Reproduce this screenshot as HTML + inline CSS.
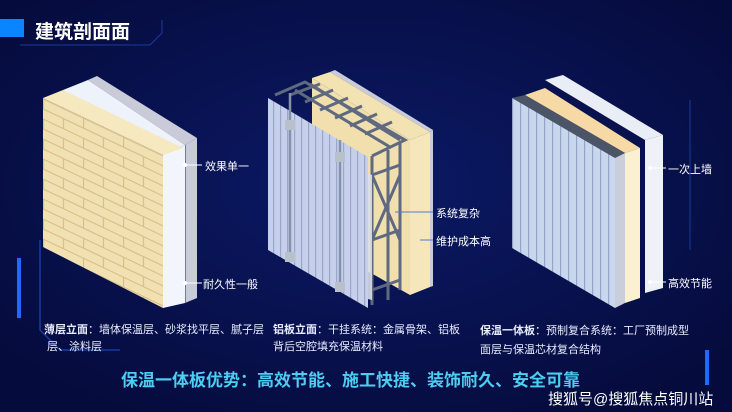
<!DOCTYPE html>
<html><head><meta charset="utf-8"><style>
body{margin:0;width:732px;height:412px;overflow:hidden;background:#07104a;font-family:"Liberation Sans","Noto Sans CJK SC",sans-serif;position:relative}
.t{position:absolute;color:#fff;white-space:nowrap}
</style></head><body>
<svg width="732" height="412" style="position:absolute;left:0;top:0">
<defs>
<radialGradient id="bg" cx="50%" cy="45%" r="65%"><stop offset="0" stop-color="#0c1a66"/><stop offset="1" stop-color="#050b3c"/></radialGradient>
<pattern id="stripe" width="7" height="10" patternUnits="userSpaceOnUse"><rect width="7" height="10" fill="#c6d0ea"/><rect width="1.2" height="10" fill="#9aa6cc"/></pattern>
<pattern id="stripe3" width="8" height="10" patternUnits="userSpaceOnUse"><rect width="8" height="10" fill="#c8d6ee"/><rect width="1.2" height="10" fill="#95a5c8"/></pattern>
<pattern id="bricks" width="40" height="20" patternUnits="userSpaceOnUse" patternTransform="skewY(25.4) translate(43,78)"><rect width="40" height="20" fill="#f1e1b2"/><path d="M0 0.5H40M0 10.5H40M0.5 0V10M20.5 10V20" stroke="#d6bd86" stroke-width="1.2"/></pattern>
</defs>
<rect width="732" height="412" fill="url(#bg)"/>
<path d="M20 45H150L162 33V20" fill="none" stroke="#1a3a9a" stroke-width="1"/>
<path d="M40 240V330L60 350H120" fill="none" stroke="#1a3aa0" stroke-width="1.5"/>
<rect x="17" y="258" width="4" height="60" fill="#1e6cff"/>
<rect x="705" y="350" width="4" height="35" fill="#1e6cff"/>
<path d="M690 100V250" stroke="#1a3a9a" stroke-width="1"/>
<rect x="0" y="19" width="24" height="18" fill="#0a84ff"/>
<!-- panel 1 -->
<polygon points="88,80 97,76 197,138 185,145" fill="#c9ccd8"/>
<polygon points="185,145 197,138 197,298 185,303" fill="#c8ccd8"/>
<line x1="185" y1="145" x2="185" y2="303" stroke="#5b6274" stroke-width="1.5"/>
<polygon points="63,90 88,80 185,145 163,155" fill="#eef2fa"/>
<polygon points="163,155 185,145 185,303 163,308" fill="#f2f5fb"/>
<polygon points="43,98 63,90 183,148 163,155" fill="#f6e8bf"/>
<polygon points="43,98 163,155 163,308 43,247" fill="url(#bricks)"/>
<line x1="185" y1="165" x2="202" y2="165" stroke="#fff"/><circle cx="185" cy="165" r="2" fill="#fff"/>
<line x1="185" y1="283" x2="202" y2="283" stroke="#fff"/><circle cx="185" cy="283" r="2" fill="#fff"/>
<!-- panel 2 -->
<polygon points="330,72 335,70 433,130 430,132" fill="#c9ccd8"/>
<polygon points="430,132 433,130 433,286 430,287" fill="#c9ccd8"/>
<polygon points="312,78 330,72 430,132 410,140" fill="#f3e2b2"/>
<polygon points="312,78 410,140 410,295 312,240" fill="#f1dfae"/>
<polygon points="410,140 430,132 430,287 410,295" fill="#f6e6bb"/>
<g stroke="#5f6a80" stroke-width="3" fill="none">
<path d="M275 95L305 82L405 140L372 156"/>
<path d="M290 95L320 84M305 102L333 90M320 110L348 98M335 118L362 106M350 126L377 114M365 134L392 122"/>
<path d="M295 90L390 147M310 84L400 140"/>
<path d="M372 156V305M400 143V290M388 150V300"/>
<path d="M372 175L400 165M372 240L400 230M372 290L400 280M372 175L400 240M400 175L372 240"/>
</g>
<polygon points="355,168 372,175 372,300 355,296" fill="#d8dee8" opacity=".9"/>
<polygon points="268,98 368,157 368,308 268,250" fill="url(#stripe)"/>
<g stroke="#8592a8" stroke-width="2.5" fill="none"><path d="M290 93V262M340 140V292"/></g>
<g fill="#b8c0cc"><rect x="285" y="120" width="10" height="10"/><rect x="335" y="152" width="10" height="10"/><rect x="285" y="252" width="10" height="10"/><rect x="335" y="282" width="10" height="10"/></g>
<line x1="395" y1="212" x2="433" y2="212" stroke="#4d7ad8"/>
<line x1="420" y1="240" x2="433" y2="240" stroke="#4d7ad8"/>
<!-- panel 3 -->
<polygon points="545,80 563,75 663,135 645,140" fill="#e9edf6"/>
<polygon points="645,140 663,135 663,288 645,293" fill="#eef2f8"/>
<polygon points="525,95 545,88 640,148 625,153" fill="#f7d9a6"/>
<polygon points="625,153 640,148 640,298 625,303" fill="#fbf0cf"/>
<polygon points="512,98 525,95 625,153 615,158" fill="#4c5468"/>
<polygon points="615,158 625,153 625,303 615,308" fill="#c9ceda"/>
<polygon points="512,98 615,158 615,308 512,248" fill="url(#stripe3)"/>
<line x1="650" y1="168" x2="666" y2="168" stroke="#fff"/><circle cx="650" cy="168" r="2" fill="#fff"/>
<line x1="650" y1="282" x2="666" y2="282" stroke="#fff"/><circle cx="650" cy="282" r="2" fill="#fff"/>
</svg>
<div class="t" style="left:35px;top:17px;font-size:19px;font-weight:bold">建筑剖面面</div>
<div class="t" style="left:205px;top:158px;font-size:11px">效果单一</div>
<div class="t" style="left:203px;top:276px;font-size:11px">耐久性一般</div>
<div class="t" style="left:436px;top:205px;font-size:11px">系统复杂</div>
<div class="t" style="left:436px;top:233px;font-size:11px">维护成本高</div>
<div class="t" style="left:668px;top:161px;font-size:11px">一次上墙</div>
<div class="t" style="left:668px;top:275px;font-size:11px">高效节能</div>
<div class="t" style="left:44px;top:322px;font-size:11px;line-height:17px;color:#e8ecff"><b>薄层立面</b>：墙体保温层、砂浆找平层、腻子层<br>&nbsp;层、涂料层</div>
<div class="t" style="left:273px;top:322px;font-size:11px;line-height:17px;color:#e8ecff"><b>铝板立面</b>：干挂系统：金属骨架、铝板<br>背后空腔填充保温材料</div>
<div class="t" style="left:480px;top:322px;font-size:11px;line-height:19px;color:#e8ecff"><b>保温一体板</b>：预制复合系统：工厂预制成型<br>面层与保温芯材复合结构</div>
<div class="t" style="left:121px;top:366px;font-size:17px;font-weight:bold;color:#4ccdf2">保温一体板优势：高效节能、施工快捷、装饰耐久、安全可靠</div>
<div class="t" style="left:548px;top:388px;font-size:15px">搜狐号@搜狐焦点铜川站</div>
</body></html>
